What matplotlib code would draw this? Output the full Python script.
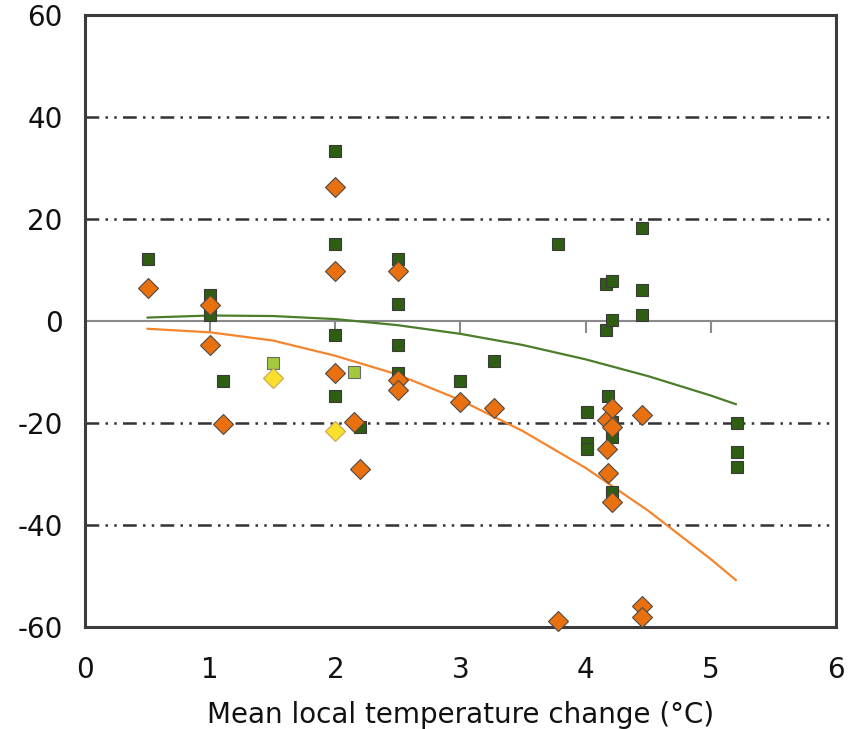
import matplotlib
matplotlib.use("Agg")
import matplotlib.pyplot as plt

# Dados
green_x = [0.5, 1.0, 1.0, 1.1, 2.0, 2.0, 2.0, 2.0, 2.2, 2.5, 2.5, 2.5, 2.5,
           3.0, 3.27, 3.78, 4.01, 4.01, 4.01, 4.16, 4.21, 4.16, 4.21, 4.18,
           4.21, 4.21, 4.21, 4.45, 4.45, 4.45, 5.21, 5.21, 5.21]
green_y = [12.2, 5.1, 1.2, -11.8, 33.3, 15.1, -2.7, -14.7, -20.8, 12.2, 3.3,
           -4.7, -10.2, -11.8, -7.9, 15.1, -17.8, -24.0, -25.0, -1.8, 0.2,
           7.3, 7.8, -14.7, -19.8, -22.7, -33.5, 18.3, 6.1, 1.2, -20.0,
           -25.7, -28.6]

light_x = [1.5, 2.15]
light_y = [-8.3, -10.0]

yellow_x = [1.5, 2.0]
yellow_y = [-11.2, -21.6]

orange_x = [0.5, 1.0, 1.0, 1.1, 2.0, 2.0, 2.0, 2.15, 2.2, 2.5, 2.5, 2.5,
            3.0, 3.27, 3.78, 4.17, 4.21, 4.21, 4.17, 4.18, 4.21, 4.45, 4.45,
            4.45]
orange_y = [6.5, 3.1, -4.7, -20.2, 26.3, 9.8, -10.2, -19.8, -29.0, 9.8,
            -11.6, -13.5, -15.9, -17.0, -58.8, -19.4, -17.0, -20.8, -25.0,
            -29.8, -35.5, -18.4, -55.9, -58.0]

# Curvas de ajuste
fit_x = [0.5, 1.0, 1.5, 2.0, 2.5, 3.0, 3.5, 4.0, 4.5, 5.0, 5.2]
fit_green = [0.7, 1.1, 1.0, 0.4, -0.8, -2.5, -4.7, -7.5, -10.8, -14.6, -16.3]
fit_orange = [-1.5, -2.2, -3.8, -6.8, -10.5, -15.5, -21.6, -28.8, -37.2,
              -46.7, -50.8]

xticks = [0, 1, 2, 3, 4, 5, 6]
yticks = [-60, -40, -20, 0, 20, 40, 60]
grid_levels = [-40, -20, 20, 40]

plt.rcParams["font.family"] = ["DejaVu Sans"]
plt.rcParams["axes.unicode_minus"] = False

fig = plt.figure(figsize=(8.56, 7.29), dpi=100)
ax = fig.add_axes([0.0993, 0.140, 0.8773, 0.839])

# linhas de grade traço-ponto-ponto
for lv in grid_levels:
    ax.axhline(lv, color="#333333", linewidth=1.8,
               linestyle=(0, (5.5, 2.5, 1.0, 2.5, 1.0, 2.5)), zorder=1)
ax.axhline(0, color="#8a8a8a", linewidth=1.5, zorder=1)
ax.vlines(xticks[1:-1], -2.3, 0, color="#8a8a8a", linewidth=1.5, zorder=1)

ax.plot(fit_x, fit_green, color="#4b7d2b", linewidth=1.6, zorder=2)
ax.plot(fit_x, fit_orange, color="#f5852d", linewidth=1.6, zorder=2)

ax.plot(green_x, green_y, "s", color="#2f5e12", markeredgecolor="#3a3a3a",
        markeredgewidth=0.8, markersize=8.5, zorder=3, clip_on=False)
ax.plot(light_x, light_y, "s", color="#a4c93c", markeredgecolor="#6a6a6a",
        markeredgewidth=0.8, markersize=8.5, zorder=3)
ax.plot(orange_x, orange_y, "D", color="#e8700f", markeredgecolor="#4a4a4a",
        markeredgewidth=0.8, markersize=10.5, zorder=4, clip_on=False)
ax.plot(yellow_x, yellow_y, "D", color="#f9e12b", markeredgecolor="#c9a25a",
        markeredgewidth=0.8, markersize=10.5, zorder=4)

ax.set_xlim(0, 6)
ax.set_ylim(-60, 60)
ax.set_xticks(xticks)
ax.set_yticks(yticks)
ax.tick_params(axis="both", length=0, labelsize=20, colors="#111111")
ax.tick_params(axis="y", pad=16)
ax.tick_params(axis="x", pad=21)

for sp in ax.spines.values():
    sp.set_color("#3c3c3c")
    sp.set_linewidth(2.2)

ax.set_xlabel("Mean local temperature change (°C)", fontsize=20,
              color="#111111", labelpad=12)

fig.savefig("out.png", dpi=100, facecolor="white")
